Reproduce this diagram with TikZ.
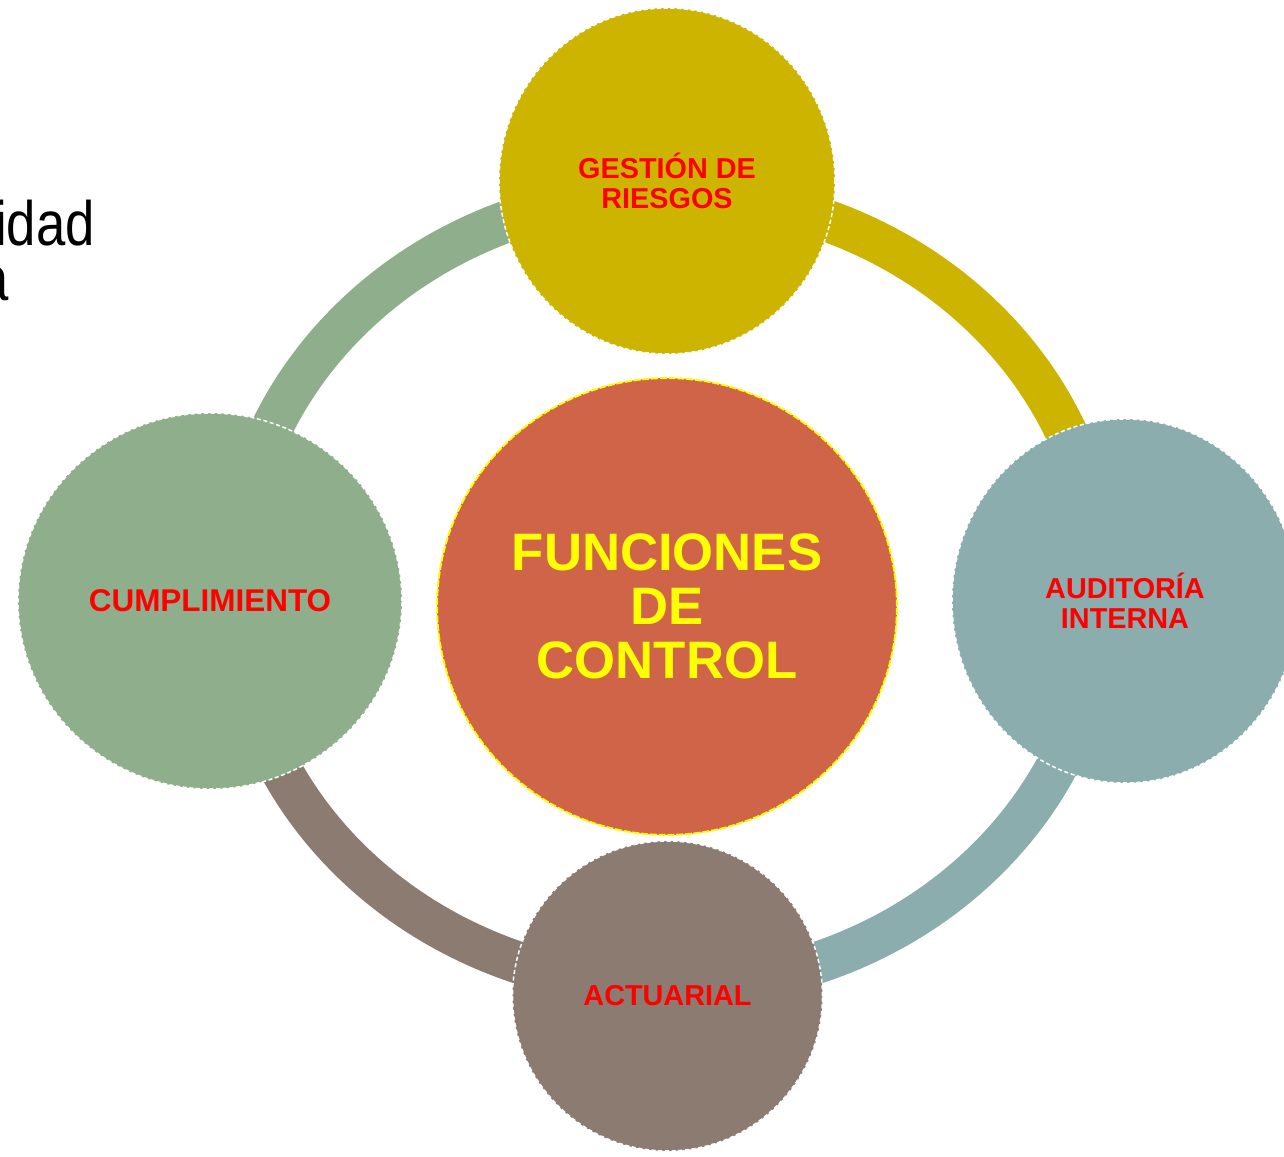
\documentclass[tikz,border=0pt]{standalone}
\usepackage{fontspec}
\setmainfont{Liberation Sans}
\usetikzlibrary{shapes.geometric}
\definecolor{cOlive}{HTML}{CDB400}
\definecolor{cGreen}{HTML}{8FAF8C}
\definecolor{cTeal}{HTML}{8BADAD}
\definecolor{cBrown}{HTML}{8B7B70}
\definecolor{cCenter}{HTML}{D06449}
\definecolor{cRed}{HTML}{FF0000}
\definecolor{cYellow}{HTML}{FFFF00}
\tikzset{
  circ/.style={ellipse, draw=white, line width=0.85pt, dash pattern=on 2.3pt off 1.5pt,
    inner sep=0pt, outer sep=0pt, align=center, text=cRed,
    font=\bfseries\fontsize{16.4}{17}\selectfont},
  band/.style={line width=0.84cm},
  bgtext/.style={anchor=base east, inner sep=0pt, text=black, font=\fontsize{35.7}{40}\selectfont}
}
\begin{document}
\begin{tikzpicture}[x=0.02cm,y=-0.02cm]
\useasboundingbox (0,0) rectangle (1284,1156);
\fill[white] (0,0) rectangle (1284,1156);
% partially visible background text
\node[bgtext] (t1) at (95,245) {\scalebox{0.84}[1]{idad}};
\node[bgtext] (t2) at (9,300) {\scalebox{0.84}[1]{a}};
% ring bands
\draw[band, cGreen] plot[domain=180:270, samples=80] ({668+434*cos(\x)},{590+397*sin(\x)});
\draw[band, cOlive] plot[domain=270:360, samples=80] ({668+434*cos(\x)},{590+397*sin(\x)});
\draw[band, cTeal] plot[domain=0:90, samples=80] ({668+434*cos(\x)},{590+397*sin(\x)});
\draw[band, cBrown] plot[domain=90:180, samples=80] ({668+434*cos(\x)},{590+397*sin(\x)});
% circles
\node[circ, fill=cOlive, minimum width=6.72cm, minimum height=6.92cm] (top) at (667,181) {GESTIÓN DE\\RIESGOS};
\node[circ, fill=cGreen, minimum width=7.68cm, minimum height=7.52cm,
  font=\bfseries\fontsize{17.9}{19}\selectfont] (left) at (210,601) {CUMPLIMIENTO};
\node[circ, fill=cTeal, minimum width=6.92cm, minimum height=7.28cm] (right) at (1125,601) {AUDITORÍA\\INTERNA};
\node[circ, fill=cBrown, minimum width=6.2cm, minimum height=6.2cm] (bottom) at (667.5,996) {ACTUARIAL};
\node[ellipse, fill=cCenter, draw=cYellow, line width=1.1pt, dash pattern=on 4pt off 1pt,
  inner sep=0pt, outer sep=0pt, minimum width=9.2cm, minimum height=9.14cm,
  text=cYellow, align=center, font=\bfseries\fontsize{30}{30.9}\selectfont] (center) at (667,606.5) {FUNCIONES\\DE\\CONTROL};
\end{tikzpicture}
\end{document}
